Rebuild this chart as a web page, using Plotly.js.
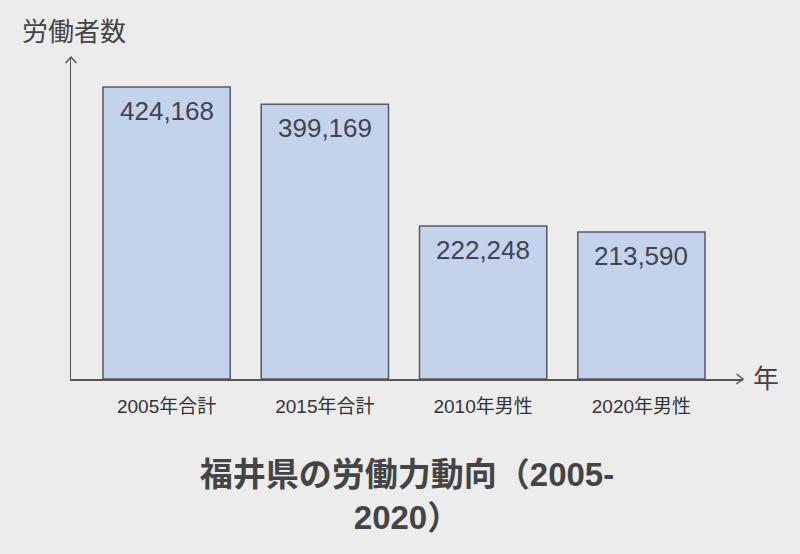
<!DOCTYPE html>
<html>
<head>
<meta charset="utf-8">
<script src="https://cdn.plot.ly/plotly-3.0.1.min.js"></script>
<style>html,body{margin:0;padding:0;background:#ececec;}#chart{width:800px;height:554px;}</style>
</head>
<body>
<div id="chart"></div>
<script>
const categories = ['2005年合計', '2015年合計', '2010年男性', '2020年男性'];
const workers = [424168, 399169, 222248, 213590];
const titleText = '福井県の労働力動向（2005-<br>2020）';
const yLabel = '労働者数';
const xLabel = '年';

const FONT = '"Liberation Sans", Arial, "Noto Sans CJK JP", sans-serif';
const fmt = v => v.toLocaleString('en-US');

const trace = {
  type: 'bar',
  x: categories,
  y: workers,
  marker: {color: '#c5d2ec', line: {color: '#555a60', width: 1.5}},
  hoverinfo: 'skip'
};

const valueAnnotations = categories.map((c, i) => ({
  x: c, y: workers[i], xref: 'x', yref: 'y',
  text: fmt(workers[i]), showarrow: false,
  yanchor: 'middle', yshift: -24,
  font: {family: FONT, size: 26, color: '#3e4550'}
}));

const layout = {
  width: 800, height: 554,
  paper_bgcolor: '#ececec', plot_bgcolor: '#ececec',
  margin: {l: 71, r: 57, t: 57, b: 175},
  showlegend: false,
  bargap: 0.196,
  font: {family: FONT, color: '#333'},
  title: {
    text: titleText,
    font: {family: FONT, size: 33, color: '#444', weight: 'bold'},
    x: 0.5, xanchor: 'center', xref: 'paper',
    y: 1 - 486 / 554, yanchor: 'middle', yref: 'container'
  },
  xaxis: {
    type: 'category',
    range: [-0.604, 3.642],
    showline: true, linecolor: '#555', linewidth: 1.5,
    showgrid: false, zeroline: false, ticks: '',
    ticklabelstandoff: 10,
    tickfont: {family: FONT, size: 19, color: '#333'},
    fixedrange: true
  },
  yaxis: {
    range: [0, 467740],
    showline: true, linecolor: '#555', linewidth: 1.5,
    showgrid: false, zeroline: false, showticklabels: false, ticks: '',
    fixedrange: true
  },
  annotations: valueAnnotations.concat([
    {xref: 'paper', yref: 'paper', x: 0, y: 1, xshift: -51, yshift: 25,
     xanchor: 'left', yanchor: 'middle', text: yLabel, showarrow: false,
     font: {family: FONT, size: 26, color: '#444'}},
    {xref: 'paper', yref: 'paper', x: 1, y: 0, xshift: 23,
     xanchor: 'center', yanchor: 'middle', text: xLabel, showarrow: false,
     font: {family: FONT, size: 26, color: '#444'}}
  ]),
  shapes: [
    {type: 'path', xref: 'paper', yref: 'paper', xsizemode: 'pixel', ysizemode: 'pixel',
     xanchor: 0, yanchor: 1, path: 'M-5.5,-6 L0,0 L5.5,-6',
     line: {color: '#555', width: 1.5}},
    {type: 'path', xref: 'paper', yref: 'paper', xsizemode: 'pixel', ysizemode: 'pixel',
     xanchor: 1, yanchor: 0, path: 'M-6.5,5 L0,0 L-6.5,-5',
     line: {color: '#555', width: 1.5}}
  ]
};

Plotly.newPlot('chart', [trace], layout, {staticPlot: true, displayModeBar: false});
</script>
</body>
</html>
